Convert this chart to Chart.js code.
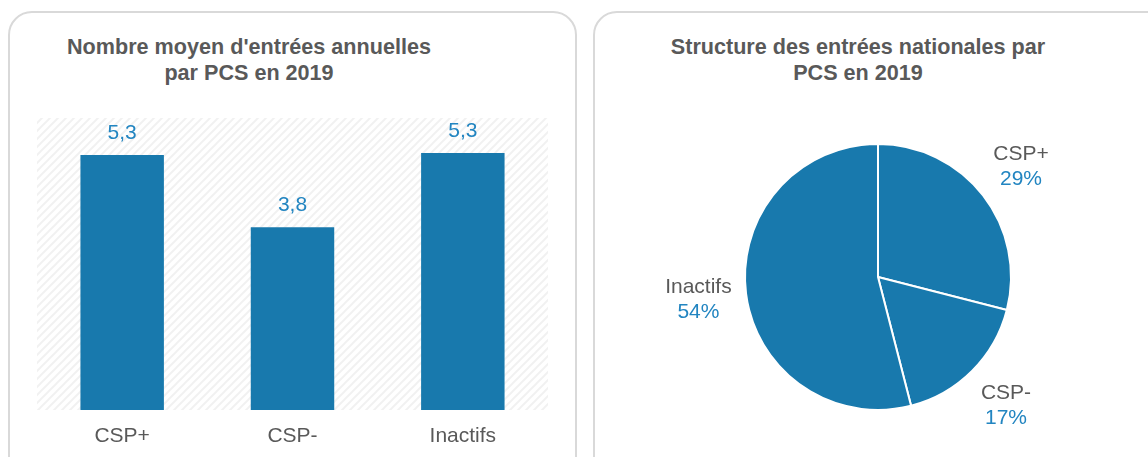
<!DOCTYPE html>
<html lang="fr">
<head>
    <meta charset="UTF-8">
    <title>Entrées par PCS 2019</title>
    <style>
        * { margin: 0; padding: 0; box-sizing: border-box; }
        body {
            width: 1148px;
            height: 457px;
            overflow: hidden;
            background: #FFFFFF;
            font-family: 'Liberation Sans', Arial, sans-serif;
            position: relative;
        }
        .panel {
            position: absolute;
            top: 11px;
            height: 470px;
            border: 2px solid #D9D9D9;
            border-radius: 24px;
        }
        .title {
            position: absolute;
            top: 34px;
            width: 440px;
            text-align: center;
            font-weight: bold;
            font-size: 21.6px;
            line-height: 26px;
            color: #595959;
        }
        .chart-box { position: absolute; top: 0; height: 457px; }
    </style>
</head>
<body>
    <div class="panel" style="left: 8px; width: 569px;"></div>
    <div class="panel" style="left: 593px; width: 580px;"></div>

    <div class="title" style="left: 29px;">Nombre moyen d'entrées annuelles<br>par PCS en 2019</div>
    <div class="title" style="left: 638px;">Structure des entrées nationales par<br>PCS en 2019</div>

    <div class="chart-box" style="left: 0; width: 580px;"><canvas id="bars"></canvas></div>
    <div class="chart-box" style="left: 593px; width: 555px;"><canvas id="pie"></canvas></div>

    <script src="https://cdn.jsdelivr.net/npm/chart.js@4/dist/chart.umd.min.js"></script>
    <script>
        // données
        const categories = ['CSP+', 'CSP-', 'Inactifs'];
        const avgEntries = [5.3, 3.8, 5.34];
        const pieLabels = ['CSP+', 'CSP-', 'Inactifs'];
        const pieShares = [29, 17, 54];

        const barBlue = '#1879AD';
        const labelBlue = '#2285C1';
        const grey = '#595959';
        const fontFamily = "'Liberation Sans', Arial, sans-serif";

        Chart.defaults.font.family = fontFamily;
        Chart.defaults.animation = false;

        // fond hachuré
        function hatchPattern(ctx) {
            const c = document.createElement('canvas');
            c.width = 8; c.height = 8;
            const p = c.getContext('2d');
            p.strokeStyle = 'rgba(0,0,0,0.055)';
            p.lineWidth = 2;
            p.beginPath();
            p.moveTo(0, 8); p.lineTo(8, 0);
            p.moveTo(-2, 2); p.lineTo(2, -2);
            p.moveTo(6, 10); p.lineTo(10, 6);
            p.stroke();
            return ctx.createPattern(c, 'repeat');
        }

        const hatchBg = {
            id: 'hatchBg',
            beforeDatasetsDraw(chart) {
                const { ctx, chartArea: a } = chart;
                ctx.save();
                ctx.fillStyle = hatchPattern(ctx);
                ctx.fillRect(a.left, a.top, a.right - a.left, a.bottom - a.top);
                ctx.restore();
            }
        };

        const barValues = {
            id: 'barValues',
            afterDatasetsDraw(chart) {
                const { ctx } = chart;
                const meta = chart.getDatasetMeta(0);
                ctx.save();
                ctx.font = '21px ' + fontFamily;
                ctx.fillStyle = labelBlue;
                ctx.textAlign = 'center';
                ctx.textBaseline = 'middle';
                meta.data.forEach((bar, i) => {
                    const txt = avgEntries[i].toFixed(1).replace('.', ',');
                    ctx.fillText(txt, bar.x, bar.y - 22);
                });
                ctx.restore();
            }
        };

        new Chart(document.getElementById('bars'), {
            type: 'bar',
            data: {
                labels: categories,
                datasets: [{
                    data: avgEntries,
                    backgroundColor: barBlue,
                    barPercentage: 0.49,
                    categoryPercentage: 1
                }]
            },
            options: {
                responsive: true,
                maintainAspectRatio: false,
                layout: { padding: { left: 37, right: 32, top: 118, bottom: 8 } },
                plugins: { legend: { display: false }, tooltip: { enabled: false } },
                scales: {
                    x: {
                        grid: { display: false },
                        border: { display: false },
                        ticks: { color: grey, font: { size: 21 }, padding: 6 },
                        afterFit(scale) { scale.height = 39; }
                    },
                    y: { display: false, min: 0, max: 6.07 }
                }
            },
            plugins: [hatchBg, barValues]
        });

        const pieOutLabels = {
            id: 'pieOutLabels',
            afterDatasetsDraw(chart) {
                const { ctx } = chart;
                const meta = chart.getDatasetMeta(0);
                ctx.save();
                ctx.font = '21px ' + fontFamily;
                ctx.textAlign = 'center';
                ctx.textBaseline = 'middle';
                meta.data.forEach((arc, i) => {
                    const mid = (arc.startAngle + arc.endAngle) / 2;
                    const d = arc.outerRadius + 48;
                    const x = arc.x + Math.cos(mid) * d;
                    const y = arc.y + Math.sin(mid) * d;
                    ctx.fillStyle = grey;
                    ctx.fillText(pieLabels[i], x, y - 12);
                    ctx.fillStyle = labelBlue;
                    ctx.fillText(pieShares[i] + '%', x, y + 13);
                });
                ctx.restore();
            }
        };

        new Chart(document.getElementById('pie'), {
            type: 'pie',
            data: {
                labels: pieLabels,
                datasets: [{
                    data: pieShares,
                    backgroundColor: barBlue,
                    borderColor: '#FFFFFF',
                    borderWidth: 2
                }]
            },
            options: {
                responsive: true,
                maintainAspectRatio: false,
                layout: { padding: { left: 151, right: 136, top: 142, bottom: 45 } },
                plugins: { legend: { display: false }, tooltip: { enabled: false } }
            },
            plugins: [pieOutLabels]
        });
    </script>
</body>
</html>
